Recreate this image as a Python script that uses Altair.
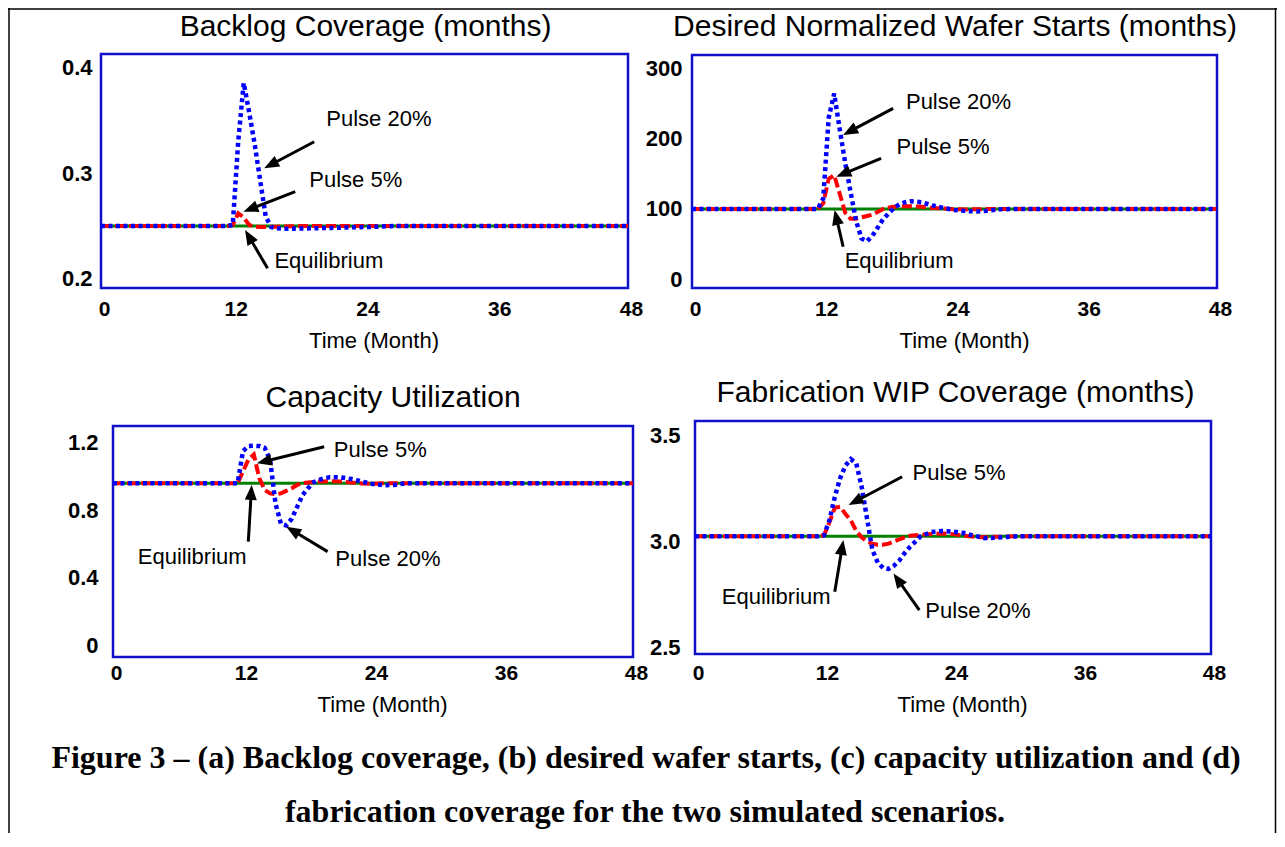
import math
import altair as alt
import pandas as pd

# ---------------- data ----------------
TIME = [0, 11.5, 12, 12.5, 13, 13.5, 14, 14.5, 15, 15.5, 16, 16.5, 17, 17.5, 18,
        18.5, 19, 19.5, 20, 21, 22, 23, 24, 25, 26, 27, 28, 30, 48]
EQ_TIME = [0, 48]
X_TICKS = [0, 12, 24, 36, 48]

# (a) Backlog coverage (months)
BACKLOG_EQ = [0.25, 0.25]
BACKLOG_P5 = [0.25, 0.25, 0.251, 0.262, 0.258, 0.251, 0.2495, 0.249, 0.249, 0.2492,
              0.2494, 0.2495, 0.2497, 0.2498, 0.2499, 0.25, 0.25, 0.25, 0.25,
              0.25, 0.25, 0.25, 0.25, 0.25, 0.25, 0.25, 0.25, 0.25, 0.25]
BACKLOG_P20 = [0.25, 0.25, 0.251, 0.33, 0.385, 0.357, 0.327, 0.293, 0.259, 0.249,
               0.2478, 0.2475, 0.2475, 0.2475, 0.2476, 0.2477, 0.2478, 0.2479, 0.248,
               0.2482, 0.2485, 0.2488, 0.249, 0.2493, 0.2497, 0.25, 0.25, 0.25, 0.25]
BACKLOG_TICKS = [0.2, 0.3, 0.4]

# (b) Desired normalized wafer starts
WAFER_EQ = [100, 100]
WAFER_P5 = [100, 100, 108, 143, 148, 122, 95, 86, 86, 88, 90, 92, 96, 100, 102, 103,
            104, 104, 104, 103, 101.5, 100.5, 99.5, 99.3, 99.5, 100, 100, 100, 100]
WAFER_P20 = [100, 100, 115, 230, 264, 214, 166, 124, 83, 58, 54, 62, 74, 86, 94, 102,
             107, 109.5, 111, 109.5, 105, 101.4, 98.6, 97, 96.5, 97.5, 99.5, 100, 100]
WAFER_TICKS = [0, 100, 200, 300]

# (c) Capacity utilization
UTIL_EQ = [0.96, 0.96]
UTIL_P5 = [0.96, 0.96, 1.03, 1.10, 1.13, 0.99, 0.92, 0.90, 0.895, 0.90, 0.915, 0.93,
           0.95, 0.96, 0.965, 0.968, 0.97, 0.971, 0.972, 0.97, 0.965, 0.958, 0.957,
           0.96, 0.96, 0.96, 0.96, 0.96, 0.96]
UTIL_P20 = [0.96, 0.96, 1.15, 1.18, 1.182, 1.18, 1.17, 1.10, 0.84, 0.72, 0.71, 0.75,
            0.82, 0.89, 0.93, 0.965, 0.98, 0.99, 0.995, 0.995, 0.985, 0.97, 0.955,
            0.948, 0.95, 0.96, 0.96, 0.96, 0.96]
UTIL_TICKS = [0, 0.4, 0.8, 1.2]

# (d) Fabrication WIP coverage (months)
WIP_EQ = [3.025, 3.025]
WIP_P5 = [3.025, 3.025, 3.03, 3.09, 3.16, 3.165, 3.13, 3.10, 3.05, 3.02, 3.00, 2.99,
          2.985, 2.985, 2.99, 3.0, 3.01, 3.02, 3.027, 3.032, 3.036, 3.038, 3.035,
          3.028, 3.022, 3.02, 3.022, 3.025, 3.025]
WIP_P20 = [3.025, 3.025, 3.03, 3.10, 3.21, 3.30, 3.36, 3.39, 3.37, 3.26, 3.11, 2.96,
           2.90, 2.875, 2.87, 2.885, 2.91, 2.945, 2.975, 3.025, 3.045, 3.05, 3.047,
           3.04, 3.027, 3.016, 3.018, 3.025, 3.025]
WIP_TICKS = [2.5, 3.0, 3.5]

# annotations (data coordinates: month, value)
BACKLOG_LABELS = ["Pulse 20%", "Pulse 5%", "Equilibrium"]
BACKLOG_LABEL_T = [25.31, 23.2, 20.75]
BACKLOG_LABEL_V = [0.351, 0.2934, 0.2173]
BACKLOG_ARROW_FROM_T = [19.42, 17.69, 15.17]
BACKLOG_ARROW_FROM_V = [0.3295, 0.2824, 0.2101]
BACKLOG_ARROW_TO_T = [14.86, 12.97, 13.12]
BACKLOG_ARROW_TO_V = [0.3045, 0.2635, 0.2462]

WAFER_LABELS = ["Pulse 20%", "Pulse 5%", "Equilibrium"]
WAFER_LABEL_T = [24.37, 22.95, 18.93]
WAFER_LABEL_V = [252.5, 188.5, 26.4]
WAFER_ARROW_FROM_T = [18.39, 17.29, 13.82]
WAFER_ARROW_FROM_V = [243.1, 172.0, 46.3]
WAFER_ARROW_TO_T = [13.82, 13.19, 13.04]
WAFER_ARROW_TO_V = [205.2, 145.9, 98.5]

UTIL_LABELS = ["Pulse 5%", "Equilibrium", "Pulse 20%"]
UTIL_LABEL_T = [24.67, 7.31, 25.38]
UTIL_LABEL_V = [1.157, 0.521, 0.511]
UTIL_ARROW_FROM_T = [19.49, 12.49, 19.81]
UTIL_ARROW_FROM_V = [1.176, 0.614, 0.555]
UTIL_ARROW_TO_T = [13.28, 12.80, 15.99]
UTIL_ARROW_TO_V = [1.078, 0.950, 0.703]

WIP_LABELS = ["Pulse 5%", "Equilibrium", "Pulse 20%"]
WIP_LABEL_T = [24.56, 7.55, 26.32]
WIP_LABEL_V = [3.323, 2.736, 2.672]
WIP_ARROW_FROM_T = [19.27, 13.0, 20.87]
WIP_ARROW_FROM_V = [3.307, 2.762, 2.675]
WIP_ARROW_TO_T = [14.29, 13.8, 18.46]
WIP_ARROW_TO_V = [3.173, 3.007, 2.849]

TITLES = ["Backlog Coverage (months)", "Desired Normalized Wafer Starts (months)",
          "Capacity Utilization", "Fabrication WIP Coverage (months)"]
X_TITLE = "Time (Month)"
CAPTION = ["Figure 3 \u2013 (a) Backlog coverage, (b) desired wafer starts, (c) capacity utilization and (d)",
           "fabrication coverage for the two simulated scenarios."]

# ---------------- layout / style ----------------
W, H = 1269, 825
M = 8  # page margin
FONT = "Liberation Sans"
SERIF = "Liberation Serif"
FRAME_COLOR = "#1010CC"
GREEN, RED, BLUE = "#008000", "#FF0000", "#0000FF"
HEAD_SIZE = 225
HEAD_R = math.sqrt(HEAD_SIZE) / 2
HEAD_PATH = "M0,-1L0.8,1L-0.8,1Z"

ONE_DEC = "format(datum.value, '.1f')"
ZERO_OR_ONE_DEC = "datum.value == 0 ? '0' : format(datum.value, '.1f')"

PANELS = [
    dict(frame=(101, 628, 54, 288), ydom=(0.1915, 0.4123), yticks=BACKLOG_TICKS, yexpr=ONE_DEC,
         ylabpad=9, xlabpad=10, xtitlepad=11, xtitle_x=373.5, title=TITLES[0], title_t=24.1,
         title_dy=-27, eq=BACKLOG_EQ, p5=BACKLOG_P5, p20=BACKLOG_P20,
         labels=BACKLOG_LABELS, lt=BACKLOG_LABEL_T, lv=BACKLOG_LABEL_V,
         ft=BACKLOG_ARROW_FROM_T, fv=BACKLOG_ARROW_FROM_V,
         tt=BACKLOG_ARROW_TO_T, tv=BACKLOG_ARROW_TO_V),
    dict(frame=(692, 1217, 55, 288), ydom=(-12.4, 318.9), yticks=WAFER_TICKS,
         yexpr="format(datum.value, 'd')",
         ylabpad=10, xlabpad=10, xtitlepad=11, xtitle_x=964, title=TITLES[1], title_t=24.05,
         title_dy=-28, eq=WAFER_EQ, p5=WAFER_P5, p20=WAFER_P20,
         labels=WAFER_LABELS, lt=WAFER_LABEL_T, lv=WAFER_LABEL_V,
         ft=WAFER_ARROW_FROM_T, fv=WAFER_ARROW_FROM_V,
         tt=WAFER_ARROW_TO_T, tv=WAFER_ARROW_TO_V),
    dict(frame=(113, 633, 426, 657), ydom=(-0.069, 1.299), yticks=UTIL_TICKS,
         yexpr=ZERO_OR_ONE_DEC,
         ylabpad=15, xlabpad=5, xtitlepad=11, xtitle_x=382, title=TITLES[2], title_t=25.85,
         title_dy=-28, eq=UTIL_EQ, p5=UTIL_P5, p20=UTIL_P20,
         labels=UTIL_LABELS, lt=UTIL_LABEL_T, lv=UTIL_LABEL_V,
         ft=UTIL_ARROW_FROM_T, fv=UTIL_ARROW_FROM_V,
         tt=UTIL_ARROW_TO_T, tv=UTIL_ARROW_TO_V),
    dict(frame=(695, 1211, 421, 654), ydom=(2.467, 3.571), yticks=WIP_TICKS, yexpr=ONE_DEC,
         ylabpad=15, xlabpad=8, xtitlepad=11, xtitle_x=962, title=TITLES[3], title_t=24.23,
         title_dy=-28, eq=WIP_EQ, p5=WIP_P5, p20=WIP_P20,
         labels=WIP_LABELS, lt=WIP_LABEL_T, lv=WIP_LABEL_V,
         ft=WIP_ARROW_FROM_T, fv=WIP_ARROW_FROM_V,
         tt=WIP_ARROW_TO_T, tv=WIP_ARROW_TO_V),
]


def build_panel(p):
    """Return a flat list of layers for one panel (all share identical scale specs)."""
    L, R, T, B = p["frame"]
    y0, y1 = p["ydom"]

    def xs():
        return alt.Scale(domain=[0, 48], range=[L - M, R - M], nice=False, zero=False)

    def ys():
        return alt.Scale(domain=[y0, y1], range=[B - M, T - M], nice=False, zero=False)

    xaxis = alt.Axis(orient="bottom", offset=(B - M) - H, values=X_TICKS, format="d",
                     grid=False, domain=False, ticks=False, labelFlush=False,
                     labelOverlap=False, labelFont=FONT, labelFontSize=21,
                     labelFontWeight="bold", labelColor="black",
                     labelPadding=p["xlabpad"], labelOffset=3,
                     title=X_TITLE, titleFont=FONT, titleFontSize=22,
                     titleFontWeight="normal", titleColor="black",
                     titlePadding=p["xtitlepad"], titleX=p["xtitle_x"] - M)
    yaxis = alt.Axis(orient="left", offset=-(L - M), values=p["yticks"],
                     labelExpr=p["yexpr"],
                     grid=False, domain=False, ticks=False, labelOverlap=False,
                     labelFont=FONT, labelFontSize=22, labelFontWeight="bold",
                     labelColor="black", labelPadding=p["ylabpad"], title="")

    def X(f, axis=None):
        return alt.X(f, type="quantitative", scale=xs(), axis=axis)

    def Y(f, axis=None):
        return alt.Y(f, type="quantitative", scale=ys(), axis=axis)

    frame_df = pd.DataFrame({"x": [0], "x2": [48], "y": [y0], "y2": [y1]})
    frame = alt.Chart(frame_df).mark_rect(fill="white", fillOpacity=0, stroke=FRAME_COLOR,
                                          strokeWidth=2.5).encode(
        x=X("x", xaxis), x2="x2", y=Y("y", yaxis), y2="y2")

    eq_df = pd.DataFrame({"t": EQ_TIME, "v": p["eq"]})
    green = alt.Chart(eq_df).mark_line(color=GREEN, strokeWidth=3).encode(
        x=X("t"), y=Y("v"))

    p5_df = pd.DataFrame({"t": TIME, "v": p["p5"]})
    red = alt.Chart(p5_df).mark_line(color=RED, strokeWidth=4, strokeDash=[10, 4]).encode(
        x=X("t"), y=Y("v"))

    p20_df = pd.DataFrame({"t": TIME, "v": p["p20"]})
    blue = alt.Chart(p20_df).mark_line(color=BLUE, strokeWidth=4.5, strokeDash=[4, 3.5]).encode(
        x=X("t"), y=Y("v"))

    # arrows: line from label to just behind the tip, triangle head at tip
    sx = (R - L) / 48.0
    sy = (B - T) / (y1 - y0)
    rows = []
    for a, b, c, d in zip(p["ft"], p["fv"], p["tt"], p["tv"]):
        px0, py0 = L + a * sx, B - (b - y0) * sy
        px1, py1 = L + c * sx, B - (d - y0) * sy
        dx, dy = px1 - px0, py1 - py0
        n = math.hypot(dx, dy)
        ux, uy = dx / n, dy / n
        hx, hy = px1 - ux * HEAD_R, py1 - uy * HEAD_R
        ang = math.degrees(math.atan2(ux, -uy)) % 360
        rows.append(dict(t0=a, v0=b, t1=(hx - L) / sx, v1=y0 + (B - hy) / sy, ang=ang))
    arr_df = pd.DataFrame(rows)
    arrows = alt.Chart(arr_df).mark_rule(color="black", strokeWidth=3).encode(
        x=X("t0"), y=Y("v0"), x2="t1", y2="v1")
    heads = alt.Chart(arr_df).mark_point(shape=HEAD_PATH, size=HEAD_SIZE, filled=True,
                                         color="black", opacity=1, strokeWidth=0).encode(
        x=X("t1"), y=Y("v1"), angle=alt.Angle("ang:Q", scale=None))

    lab_df = pd.DataFrame({"t": p["lt"], "v": p["lv"], "s": p["labels"]})
    labels = alt.Chart(lab_df).mark_text(font=FONT, fontSize=22, color="black",
                                         align="center", baseline="middle").encode(
        x=X("t"), y=Y("v"), text="s:N")

    title_df = pd.DataFrame({"t": [p["title_t"]], "v": [y1], "s": [p["title"]]})
    title = alt.Chart(title_df).mark_text(font=FONT, fontSize=30, color="black",
                                          align="center", baseline="middle",
                                          dy=p["title_dy"]).encode(
        x=X("t"), y=Y("v"), text="s:N")

    return [frame, green, red, blue, arrows, heads, labels, title]


one = pd.DataFrame({"k": [0]})
left_line = alt.Chart(one).mark_rule(color="black", strokeWidth=1.5).encode(
    x=alt.value(1), y=alt.value(0), y2=alt.value(H))
top_line = alt.Chart(one).mark_rule(color="black", strokeWidth=1.5).encode(
    x=alt.value(0), x2=alt.value(W), y=alt.value(1))
right_line = alt.Chart(one).mark_rule(color="black", strokeWidth=1.5).encode(
    x=alt.value(W - 1.5), y=alt.value(0), y2=alt.value(H))

cap1 = alt.Chart(one).mark_text(font=SERIF, fontSize=32, fontWeight="bold", color="black",
                                align="center", baseline="middle", text=CAPTION[0]).encode(
    x=alt.value(646 - M), y=alt.value(758 - M))
cap2 = alt.Chart(one).mark_text(font=SERIF, fontSize=32, fontWeight="bold", color="black",
                                align="center", baseline="middle", text=CAPTION[1]).encode(
    x=alt.value(645 - M), y=alt.value(812 - M))

layers = []
for p in PANELS:
    layers.extend(build_panel(p))

chart = alt.layer(left_line, top_line, right_line, *layers, cap1, cap2).resolve_scale(
    x="independent", y="independent"
).resolve_axis(
    x="independent", y="independent"
).properties(
    width=W, height=H, padding=0, autosize=alt.AutoSizeParams(type="none")
).configure_view(strokeWidth=0)

chart.save("out.html", embed_options={"renderer": "svg", "actions": False})
